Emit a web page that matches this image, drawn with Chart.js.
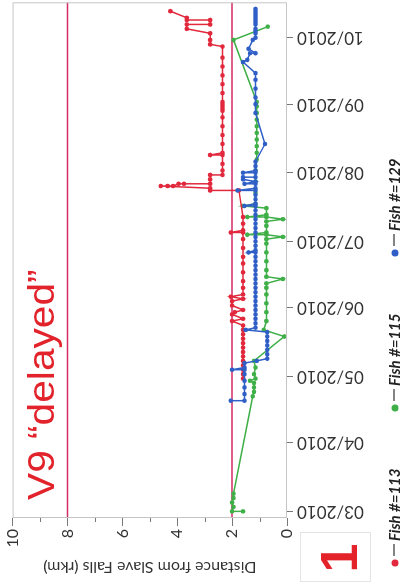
<!DOCTYPE html>
<html>
<head>
<meta charset="utf-8">
<script src="https://cdn.jsdelivr.net/npm/chart.js@4/dist/chart.umd.min.js"></script>
<style>
  html, body { margin: 0; padding: 0; background: #fff; overflow: hidden; width: 406px; height: 585px; }
  /* the figure is laid out landscape and turned a quarter turn counter-clockwise */
  #wrap { position: absolute; left: 0; top: 0; width: 585px; height: 406px;
          transform-origin: 0 0; transform: translateY(585px) rotate(-90deg); }
</style>
</head>
<body>
<div id="wrap"><canvas id="c" width="585" height="406"></canvas></div>
<script>
// Month ticks on the date axis
const monthTicks  = ['2010-03-01','2010-04-01','2010-05-01','2010-06-01','2010-07-01','2010-08-01','2010-09-01','2010-10-01'];
const monthLabels = ['03/2010','04/2010','05/2010','06/2010','07/2010','08/2010','09/2010','10/2010'];
const dateMin = '2010-02-26';
const dateMax = '2010-10-17';

// Distance axis
const rkmTicks   = [0, 2, 4, 6, 8, 10];
const rkmMinor   = [1, 3, 5, 7, 9];
const referenceRkm = [8, 2];

const seriesNames = ['Fish #=113', 'Fish #=115', 'Fish #=129'];

// Fish #113 detections
const fish113Dates = ['2010-04-30','2010-05-02','2010-05-04','2010-05-06','2010-05-08','2010-05-10','2010-05-12','2010-05-14','2010-05-16',
  '2010-05-18','2010-05-20','2010-05-22','2010-05-24',
  '2010-05-26','2010-05-27','2010-05-29','2010-05-30','2010-05-31','2010-06-02','2010-06-04','2010-06-05','2010-06-06','2010-06-07',
  '2010-06-10','2010-06-13','2010-06-17','2010-06-21','2010-06-24','2010-06-28','2010-07-02','2010-07-05','2010-07-05','2010-07-06',
  '2010-07-09','2010-07-12','2010-07-24','2010-07-24','2010-07-25','2010-07-26','2010-07-26','2010-07-26','2010-07-27','2010-07-27',
  '2010-07-27','2010-07-29','2010-07-31','2010-07-31','2010-08-02','2010-08-05','2010-08-09','2010-08-09','2010-08-10','2010-08-14',
  '2010-08-18','2010-08-22','2010-08-26','2010-08-29','2010-08-30','2010-08-31','2010-09-01','2010-09-02','2010-09-06','2010-09-10',
  '2010-09-14','2010-09-18','2010-09-22','2010-09-27','2010-09-28','2010-09-30','2010-10-03','2010-10-05','2010-10-07','2010-10-07',
  '2010-10-09','2010-10-09','2010-10-10','2010-10-13'];
const fish113Rkm = [1.6,1.6,1.6,1.6,1.6,1.6,1.6,1.6,1.6,
  1.6,1.6,1.6,1.6,
  2.0,1.6,2.0,1.9,1.6,2.0,2.0,1.6,2.05,1.6,
  1.6,1.6,1.6,1.6,1.6,1.6,1.6,1.6,2.05,1.6,
  1.6,1.6,1.75,2.8,2.8,4.6,4.35,4.15,3.95,3.75,
  2.8,2.8,2.8,2.35,2.35,2.35,2.35,2.8,2.35,2.35,
  2.35,2.35,2.35,2.35,2.35,2.35,2.35,2.35,2.35,2.35,
  2.35,2.35,2.35,2.35,2.8,2.8,2.8,3.65,3.65,2.8,
  2.8,3.65,3.65,4.25];

// Fish #115 detections
const fish115Dates = ['2010-03-01','2010-03-01','2010-03-03','2010-03-05','2010-03-07','2010-03-09','2010-04-22','2010-04-24','2010-04-26',
  '2010-04-28','2010-04-29','2010-04-30','2010-05-02','2010-05-05','2010-05-08','2010-05-19','2010-05-22','2010-05-26','2010-05-30',
  '2010-06-03','2010-06-07','2010-06-10','2010-06-12','2010-06-14','2010-06-15','2010-06-18','2010-06-22','2010-06-26','2010-06-30',
  '2010-07-02','2010-07-03','2010-07-04','2010-07-04','2010-07-05','2010-07-08','2010-07-10','2010-07-11','2010-07-12','2010-07-12',
  '2010-07-13','2010-07-16','2010-07-17','2010-07-18','2010-07-23','2010-07-28','2010-08-02','2010-08-07','2010-08-10','2010-08-13',
  '2010-08-16','2010-08-19','2010-08-22','2010-08-25','2010-08-28','2010-08-31','2010-09-02','2010-09-30','2010-10-06'];
const fish115Rkm = [1.6,2.0,1.95,2.0,1.95,1.95,1.25,1.2,1.2,
  1.2,1.35,1.15,1.2,1.15,1.2,0.1,0.85,0.75,0.75,
  0.75,0.75,0.75,0.75,0.15,0.75,0.75,0.75,0.75,0.75,
  0.75,0.15,0.75,1.45,0.75,0.75,0.75,0.15,0.75,1.45,
  0.75,0.75,1.6,1.15,1.15,1.15,1.15,1.1,1.1,1.1,
  1.1,1.1,1.1,1.1,1.1,1.1,1.1,1.95,0.7];

// Fish #129 detections
const fish129Dates = ['2010-04-20','2010-04-20','2010-04-23','2010-04-26','2010-04-29','2010-05-02','2010-05-04','2010-05-04','2010-05-05',
  '2010-05-07','2010-05-08','2010-05-09','2010-05-11','2010-05-13','2010-05-15','2010-05-17','2010-05-19','2010-05-21','2010-05-22',
  '2010-05-23','2010-05-25','2010-05-27','2010-05-29','2010-05-31','2010-06-02','2010-06-04','2010-06-06','2010-06-08','2010-06-10',
  '2010-06-12','2010-06-14','2010-06-16','2010-06-18','2010-06-20','2010-06-22','2010-06-24','2010-06-26','2010-06-26','2010-06-27',
  '2010-06-29','2010-07-01','2010-07-03','2010-07-05','2010-07-07','2010-07-09','2010-07-11','2010-07-13','2010-07-15','2010-07-17',
  '2010-07-17','2010-07-18','2010-07-20','2010-07-22','2010-07-24','2010-07-24','2010-07-25','2010-07-27','2010-07-27','2010-07-28',
  '2010-07-29','2010-07-30','2010-07-30','2010-08-01','2010-08-01','2010-08-02','2010-08-04','2010-08-06','2010-08-14','2010-08-28',
  '2010-09-01','2010-09-04','2010-09-08','2010-09-12','2010-09-15','2010-09-20','2010-09-21','2010-09-24','2010-09-24','2010-09-26',
  '2010-09-30','2010-10-01','2010-10-03','2010-10-04','2010-10-05','2010-10-07','2010-10-08','2010-10-09','2010-10-10','2010-10-11',
  '2010-10-12','2010-10-13','2010-10-14'];
const fish129Rkm = [2.05,1.55,1.55,1.55,1.55,1.55,1.55,2.0,1.55,
  1.55,1.1,0.72,0.72,0.72,0.72,0.72,0.72,0.72,1.5,
  1.15,1.15,1.15,1.15,1.15,1.15,1.15,1.15,1.15,1.15,
  1.15,1.15,1.15,1.15,1.15,1.15,1.15,1.15,1.4,1.15,
  1.15,1.15,1.15,1.15,1.15,1.15,1.15,1.15,1.15,1.15,
  1.55,1.15,1.15,1.15,1.15,1.8,1.15,1.15,1.55,1.15,
  1.6,1.6,1.15,1.15,1.6,1.15,1.15,1.15,0.8,1.15,
  1.15,1.15,1.15,1.15,1.15,1.6,1.45,1.35,1.15,1.4,
  1.25,1.15,1.15,1.15,1.15,1.15,1.15,1.15,1.15,1.15,
  1.15,1.15,1.15];

const RED = '#e1283c', GREEN = '#3faf48', BLUE = '#2f5fc6', REF = '#d42a66';
const dayNum = s => Date.parse(s) / 864e5;
const pts = (dates, vals) => dates.map((d, i) => ({ x: dayNum(d), y: vals[i] }));

function fishSet(label, dates, vals, color, order) {
  return { label, data: pts(dates, vals), borderColor: color, backgroundColor: color,
           borderWidth: 1.5, pointRadius: 2.3, pointHoverRadius: 2.3, pointBorderWidth: 0,
           tension: 0, order, fish: true };
}
const refSets = referenceRkm.map(v => ({
  label: 'ref' + v, data: [{ x: dayNum(dateMin), y: v }, { x: dayNum(dateMax), y: v }],
  borderColor: REF, borderWidth: 1.5, pointRadius: 0, order: 5, fish: false
}));

const frameAndNotes = {
  id: 'frameAndNotes',
  afterDraw(chart) {
    const { ctx, chartArea: a, scales: { y } } = chart;
    ctx.save();
    // plot frame
    ctx.strokeStyle = '#c6c6c6';
    ctx.lineWidth = 1;
    ctx.strokeRect(a.left + 0.5, a.top + 0.5, a.right - a.left - 1, a.bottom - a.top - 1);
    // short minor ticks on the distance axis
    ctx.strokeStyle = '#777';
    rkmMinor.forEach(v => {
      const p = Math.round(y.getPixelForValue(v)) + 0.5;
      ctx.beginPath(); ctx.moveTo(a.left, p); ctx.lineTo(a.left - 4, p); ctx.stroke();
    });
    // station note
    ctx.fillStyle = '#e2232b';
    ctx.font = '36px "Liberation Sans", Arial, sans-serif';
    ctx.textBaseline = 'alphabetic';
    ctx.translate(a.left + 18, a.top + 41);
    ctx.scale(1.13, 1);
    ctx.fillText('V9 \u201Cdelayed\u201D', 0, 0);
    ctx.setTransform(1, 0, 0, 1, 0, 0);
    // panel number
    ctx.strokeStyle = '#e4e4e4';
    ctx.strokeRect(3.5, 300.5, 49, 70);
    ctx.fillStyle = '#e3222a';
    ctx.font = 'bold 52px "Liberation Sans", Arial, sans-serif';
    ctx.textAlign = 'center';
    ctx.fillText('1', 27, 357);
    // legend
    const fish = chart.data.datasets.filter(d => d.fish);
    fish.sort((p, q) => seriesNames.indexOf(p.label) - seriesNames.indexOf(q.label));
    ctx.textAlign = 'left';
    ctx.font = 'italic bold 15px Lato, "Open Sans", sans-serif';
    fish.forEach((d, i) => {
      const x0 = 22 + i * 155, yc = 395;
      ctx.fillStyle = d.borderColor;
      ctx.beginPath(); ctx.arc(x0, yc, 3.5, 0, Math.PI * 2); ctx.fill();
      ctx.strokeStyle = '#333'; ctx.lineWidth = 1.2;
      ctx.beginPath(); ctx.moveTo(x0 + 7, yc - 1); ctx.lineTo(x0 + 19, yc - 1); ctx.stroke();
      ctx.fillStyle = '#222';
      ctx.fillText(d.label, x0 + 22, 400);
    });
    ctx.restore();
  }
};

Chart.defaults.font.family = 'Lato, "Open Sans", sans-serif';
Chart.defaults.color = '#333';

new Chart(document.getElementById('c'), {
  type: 'line',
  data: {
    datasets: [
      fishSet(seriesNames[2], fish129Dates, fish129Rkm, BLUE, 0),
      fishSet(seriesNames[0], fish113Dates, fish113Rkm, RED, 1),
      fishSet(seriesNames[1], fish115Dates, fish115Rkm, GREEN, 2),
      ...refSets
    ]
  },
  options: {
    responsive: false,
    animation: false,
    layout: { padding: { top: 12, right: 2, bottom: 0, left: 0 } },
    plugins: { legend: { display: false }, tooltip: { enabled: false } },
    scales: {
      x: {
        type: 'linear',
        min: dayNum(dateMin), max: dayNum(dateMax),
        afterBuildTicks: s => { s.ticks = monthTicks.map(m => ({ value: dayNum(m) })); },
        afterFit: s => { s.height = 119; },
        ticks: {
          autoSkip: false, minRotation: 90, maxRotation: 90, padding: 4,
          font: { size: 17 }, color: '#333',
          callback: v => monthLabels[monthTicks.map(dayNum).indexOf(v)]
        },
        grid: { display: true, drawOnChartArea: false, drawTicks: true, tickLength: 6, tickColor: '#777' },
        border: { display: false }
      },
      y: {
        min: 0, max: 10,
        afterBuildTicks: s => { s.ticks = rkmTicks.map(v => ({ value: v })); },
        afterFit: s => { s.width = 67; },
        ticks: { font: { size: 16 }, color: '#333', padding: 3 },
        grid: { display: true, drawOnChartArea: false, drawTicks: true, tickLength: 8, tickColor: '#777' },
        border: { display: false },
        title: { display: true, text: 'Distance from Slave Falls (rkm)', font: { size: 16 }, color: '#333',
                 padding: { top: 8, bottom: 0 } }
      }
    }
  },
  plugins: [frameAndNotes]
});
</script>
</body>
</html>
